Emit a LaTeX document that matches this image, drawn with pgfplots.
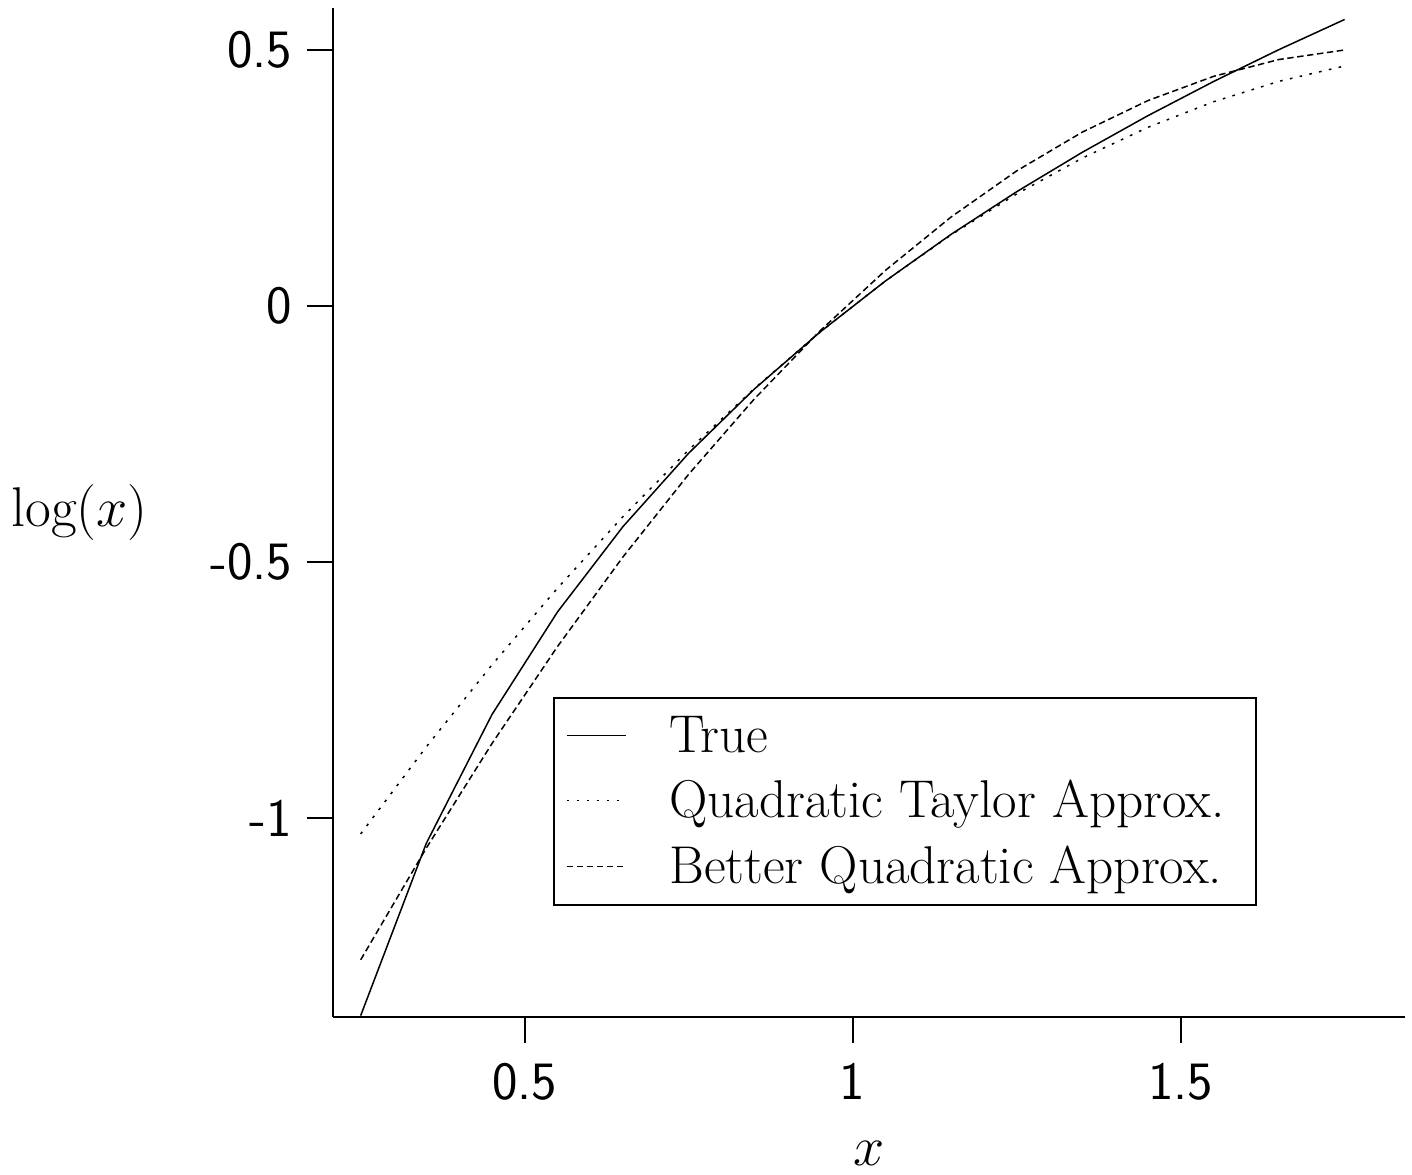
\RequirePackage{fix-cm}
\documentclass[border=0pt]{standalone}
\usepackage{fontspec}
\usepackage{pgfplots}
\pgfplotsset{compat=1.18}

\pgfplotstableread{
x      true     taylor   better
0.25  -1.3863  -1.0313  -1.2773
0.35  -1.0498  -0.8613  -1.0591
0.45  -0.7985  -0.7013  -0.8551
0.55  -0.5978  -0.5513  -0.6654
0.65  -0.4308  -0.4113  -0.4900
0.75  -0.2877  -0.2813  -0.3288
0.85  -0.1625  -0.1613  -0.1818
0.95  -0.0513  -0.0513  -0.0490
1.05   0.0488   0.0488   0.0695
1.15   0.1398   0.1388   0.1737
1.25   0.2231   0.2188   0.2638
1.35   0.3001   0.2888   0.3395
1.45   0.3716   0.3488   0.4011
1.55   0.4383   0.3988   0.4484
1.65   0.5008   0.4388   0.4814
1.75   0.5596   0.4688   0.5000
}\logdata

\newcommand{\bigf}{\fontsize{27}{32}\selectfont}
\newcommand{\legf}{\fontsize{26.6}{32}\selectfont}
\newcommand{\labf}{\fontsize{28}{33}\selectfont}

\begin{document}
\begin{tikzpicture}
\begin{axis}[
    name=ax,
    width=536pt, height=504.5pt,
    scale only axis,
    xmin=0.2078, xmax=1.842,
    ymin=-1.389, ymax=0.582,
    axis lines=left,
    axis line style={-, line width=1pt},
    tick align=outside,
    major tick length=13pt,
    tick style={line width=1pt, black},
    xtick={0.5,1,1.5},
    ytick={-1,-0.5,0,0.5},
    /pgf/number format/assume math mode=true,
    ticklabel style={font=\sffamily\bigf},
    xticklabel style={yshift=-6.5pt},
    yticklabel style={xshift=-4pt},
    xlabel={$x$},
    ylabel={$\log(x)$},
    every axis x label/.style={at={(axis description cs:0.5,-0.135)}, anchor=center, inner sep=0pt, font=\labf},
    every axis y label/.style={at={(axis description cs:-0.2365,0.5)}, anchor=center, font=\labf},
    legend cell align=left,
    legend image code/.code={\draw[#1] (0cm,0cm) -- (1.05cm,0cm); \path (1.44cm,0cm);},
    legend style={at={(rel axis cs:0.205,0.317)}, anchor=north west,
        font=\legf, line width=1pt, draw=black,
        inner xsep=6pt, inner ysep=7pt,
        row sep=8.5pt,
        nodes={inner xsep=10pt}},
]
\addplot[black, line width=0.75pt] table[x=x, y=true] {\logdata};
\addlegendentry{True}
\addplot[black, line width=0.75pt, dash pattern=on 1.3pt off 3.7pt] table[x=x, y=taylor] {\logdata};
\addlegendentry{Quadratic Taylor Approx.}
\addplot[black, line width=0.75pt, dash pattern=on 3.2pt off 1.8pt] table[x=x, y=better] {\logdata};
\addlegendentry{Better Quadratic Approx.\rule[-9pt]{0pt}{1pt}}
\end{axis}
\pgfresetboundingbox
\path[use as bounding box] ([xshift=-166.5pt,yshift=-78.5pt]ax.south west) rectangle ([xshift=3.5pt,yshift=4pt]ax.north east);
\end{tikzpicture}
\end{document}
